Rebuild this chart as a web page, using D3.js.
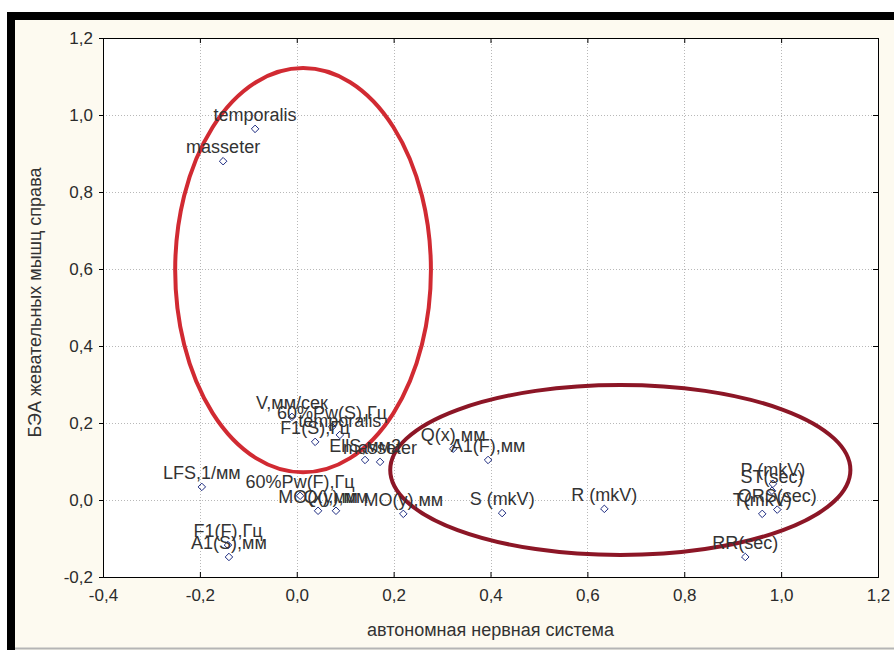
<!DOCTYPE html>
<html lang="ru">
<head>
<meta charset="UTF-8">
<title>Факторные нагрузки</title>
<script src="https://cdn.jsdelivr.net/npm/d3@7"></script>
<style>
    body { margin: 0; background: #fff; }
    svg { display: block; font-family: "Liberation Sans", Arial, sans-serif; }
</style>
</head>
<body>
<div id="graphDiv"></div>
<script>
    // point labels and coordinates
    var names = ["temporalis", "masseter", "V,мм/сек", "60%Pw(S),Гц", "temporalis", "F1(S),Гц",
                 "EllS,мм2", "masseter", "Q(x),мм", "A1(F),мм", "LFS,1/мм", "60%Pw(F),Гц",
                 "MO(x),мм", "Q(y),мм", "MO(y),мм", "S (mkV)", "R (mkV)", "F1(F),Гц", "A1(S),мм",
                 "RR(sec)", "P (mkV)", "ST(sec)", "QRS(sec)", "T(mkV)"]
    var xVals = [-0.086, -0.152, -0.010, 0.073, 0.089, 0.038,
                 0.141, 0.172, 0.323, 0.395, -0.196, 0.007,
                 0.044, 0.081, 0.220, 0.424, 0.635, -0.142, -0.140,
                 0.926, 0.983, 0.981, 0.992, 0.961]
    var yVals = [0.964, 0.880, 0.216, 0.190, 0.169, 0.151,
                 0.104, 0.099, 0.133, 0.104, 0.034, 0.011,
                 -0.028, -0.028, -0.036, -0.034, -0.023, -0.117, -0.148,
                 -0.148, 0.042, 0.024, -0.025, -0.036]

    var xTicks = [-0.4, -0.2, 0.0, 0.2, 0.4, 0.6, 0.8, 1.0, 1.2]
    var yTicks = [-0.2, 0.0, 0.2, 0.4, 0.6, 0.8, 1.0, 1.2]

    // hand-drawn ellipses (centre x, centre y, radius x, radius y), data units
    var ellipses = [
        { cx: 0.013, cy: 0.597, rx: 0.264, ry: 0.525, color: "#d12a32" },
        { cx: 0.668, cy: 0.078, rx: 0.475, ry: 0.221, color: "#8c1626" }
    ]

    var width = 894
    var height = 650
    var pLeft = 103, pRight = 878, pTop = 38, pBottom = 577

    var svg = d3.select('#graphDiv')
                .append('svg')
                .attr('width', width)
                .attr('height', height)

    // cream panel with the thick black frame at top/left
    svg.append('rect')
        .attr('x', 11).attr('y', 16)
        .attr('width', 920).attr('height', 700)
        .attr('fill', '#fdfaf0')
        .attr('stroke', '#000')
        .attr('stroke-width', 8)
    svg.append('line')
        .attr('x1', 15).attr('x2', width)
        .attr('y1', 648.5).attr('y2', 648.5)
        .attr('stroke', '#b5b5b5').attr('stroke-width', 2)

    var xScale = d3.scaleLinear().domain([-0.4, 1.2]).range([pLeft, pRight])
    var yScale = d3.scaleLinear().domain([-0.2, 1.2]).range([pBottom, pTop])

    var fmt = d => d3.format(".1f")(d).replace(".", ",").replace("−", "-")

    svg.append('rect')
        .attr('x', pLeft).attr('y', pTop)
        .attr('width', pRight - pLeft).attr('height', pBottom - pTop)
        .attr('fill', '#fff')

    // dotted grid
    var grid = svg.append('g').attr('stroke', '#b8b8b8').attr('stroke-dasharray', '1,2')
    grid.selectAll('.gx').data(xTicks.slice(1, -1)).join('line')
        .attr('class', 'gx')
        .attr('x1', d => Math.round(xScale(d)) + 0.5).attr('x2', d => Math.round(xScale(d)) + 0.5)
        .attr('y1', pTop).attr('y2', pBottom)
    grid.selectAll('.gy').data(yTicks.slice(1, -1)).join('line')
        .attr('class', 'gy')
        .attr('y1', d => Math.round(yScale(d)) + 0.5).attr('y2', d => Math.round(yScale(d)) + 0.5)
        .attr('x1', pLeft).attr('x2', pRight)

    // axes
    var xAxis = d3.axisBottom(xScale).tickValues(xTicks).tickFormat(fmt).tickSize(-5).tickPadding(12)
    var xTop = d3.axisTop(xScale).tickValues(xTicks).tickFormat('').tickSize(-5)
    var yAxis = d3.axisLeft(yScale).tickValues(yTicks).tickFormat(fmt).tickSize(4).tickPadding(6)
    var yRight = d3.axisRight(yScale).tickValues(yTicks).tickFormat('').tickSize(-5)

    svg.append('g').attr('transform', `translate(0,${pBottom})`).call(xAxis)
    svg.append('g').attr('transform', `translate(0,${pTop})`).call(xTop)
    svg.append('g').attr('transform', `translate(${pLeft},0)`).call(yAxis)
    svg.append('g').attr('transform', `translate(${pRight},0)`).call(yRight)

    svg.selectAll('.domain').attr('stroke', '#000')
    svg.selectAll('.tick line').attr('stroke', '#000')
    svg.selectAll('.tick text')
        .attr('font-size', 17)
        .attr('fill', '#2b2b2b')
        .attr('font-family', '"Liberation Sans", Arial, sans-serif')

    // axis titles
    svg.append('text')
        .attr('x', (pLeft + pRight) / 2).attr('y', 636)
        .attr('text-anchor', 'middle')
        .attr('font-size', 18).attr('fill', '#333')
        .text('автономная нервная система')
    svg.append('text')
        .attr('transform', `translate(41,${(pTop + pBottom) / 2 - 5}) rotate(-90)`)
        .attr('text-anchor', 'middle')
        .attr('font-size', 18).attr('fill', '#333')
        .text('БЭА жевательных мышц справа')

    // ellipses
    svg.append('g').selectAll('ellipse')
        .data(ellipses)
        .join('ellipse')
        .attr('cx', d => xScale(d.cx))
        .attr('cy', d => yScale(d.cy))
        .attr('rx', d => xScale(d.rx) - xScale(0))
        .attr('ry', d => yScale(0) - yScale(d.ry))
        .attr('fill', 'none')
        .attr('stroke', d => d.color)
        .attr('stroke-width', 4)

    // points and labels
    var pts = names.map((n, i) => ({ name: n, x: xVals[i], y: yVals[i] }))
    var pg = svg.append('g')
    pg.selectAll('path')
        .data(pts)
        .join('path')
        .attr('transform', d => `translate(${xScale(d.x)},${yScale(d.y)})`)
        .attr('d', d3.symbol(d3.symbolDiamond2, 36))
        .attr('fill', 'none')
        .attr('stroke', '#1c2a80')
        .attr('stroke-width', 1)
    pg.selectAll('text')
        .data(pts)
        .join('text')
        .attr('x', d => xScale(d.x))
        .attr('y', d => yScale(d.y) - 8)
        .attr('text-anchor', 'middle')
        .attr('font-size', 18)
        .attr('fill', '#333')
        .text(d => d.name)
</script>
</body>
</html>
